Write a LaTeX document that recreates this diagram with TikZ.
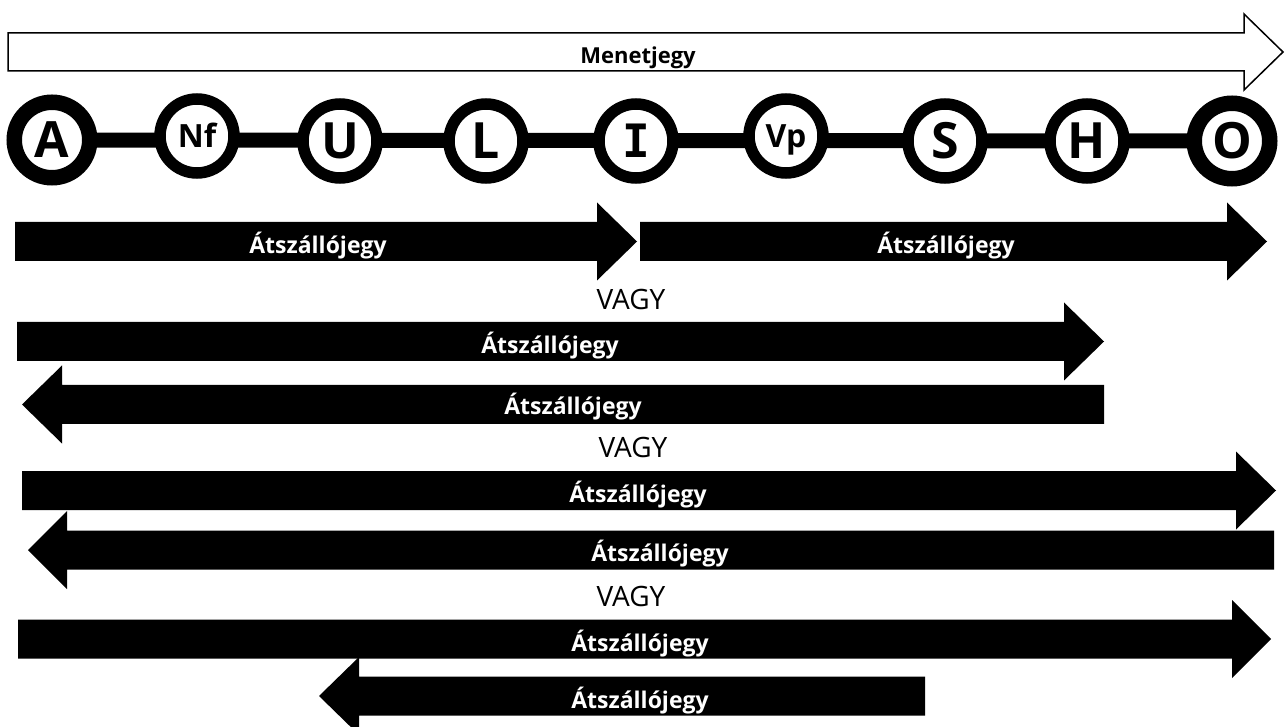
\documentclass[tikz,border=0pt]{standalone}
\usepackage{fontspec}
\setmainfont{Open Sans}
\newfontfamily\monob{DejaVu Sans Mono}
\usetikzlibrary{backgrounds}
\newcommand\blkR[4]{% x1, head base, tip, yc
  \fill[black] (#1,#4-19.5) -- (#2,#4-19.5) -- (#2,#4-39) -- (#3,#4) -- (#2,#4+39) -- (#2,#4+19.5) -- (#1,#4+19.5) -- cycle;}
\newcommand\blkL[4]{% x right end, head base, tip, yc
  \fill[black] (#1,#4-19.5) -- (#2,#4-19.5) -- (#2,#4-39) -- (#3,#4) -- (#2,#4+39) -- (#2,#4+19.5) -- (#1,#4+19.5) -- cycle;}
\tikzset{
  stnbig/.style={circle, draw=black, fill=white, line width=11.5pt, minimum size=74pt, inner sep=0pt,
    text height=35.7pt, text depth=0pt, font=\bfseries\fontsize{50}{50}\selectfont},
  stnsmall/.style={circle, draw=black, fill=white, line width=11.5pt, minimum size=74pt, inner sep=0pt,
    text height=22.8pt, text depth=0pt, font=\bfseries\fontsize{32}{32}\selectfont},
  stnend/.style={stnbig, line width=15.5pt, minimum size=75.5pt},
  lbl/.style={anchor=base, text=white, inner sep=0pt, font=\bfseries\fontsize{23}{27}\selectfont},
  orlbl/.style={anchor=base, text=black, inner sep=0pt, font=\fontsize{28}{32}\selectfont},
  toplbl/.style={anchor=base, text=black, inner sep=0pt, font=\bfseries\fontsize{22}{26}\selectfont},
  trackline/.style={line width=15pt, draw=black}
}
\begin{document}
\begin{tikzpicture}[x=1pt, y=-1pt]
\clip (0,0) rectangle (1286,727);
% top outline arrow
\draw[line width=1.5pt, line join=miter, fill=white] (8,33) -- (1244,33) -- (1244,14) -- (1283,52) -- (1244,90) -- (1244,71) -- (8,71) -- cycle;
\node[toplbl] (menet) at (638,64) {Menetjegy};
% stations
\node[stnend]   (A)  at (52,140)   {A};
\node[stnsmall] (Nf) at (197,136)  {Nf};
\node[stnbig]   (U)  at (340,141)  {U};
\node[stnbig]   (L)  at (486,141)  {L};
\node[stnbig, font=\monob\bfseries\fontsize{46}{46}\selectfont, text height=33pt] (I) at (636,141) {I};
\node[stnsmall] (Vp) at (786,136)  {Vp};
\node[stnbig]   (S)  at (945,141)  {S};
\node[stnbig]   (H)  at (1087,141) {H};
\node[stnend]   (O)  at (1232,141) {O};
\begin{scope}[on background layer]
\fill[white] (0,0) rectangle (1286,727);
\draw[trackline] (A.center) -- (O.center);
\end{scope}
% row 1
\blkR{15}{597}{637}{241.5}
\blkR{640}{1227}{1267}{241.5}
\node[lbl] (t1a) at (318,253.5) {Átszállójegy};
\node[lbl] (t1b) at (946,253.5) {Átszállójegy};
\node[orlbl] (or1) at (631,310) {VAGY};
% row 2
\blkR{17}{1064}{1104}{341.5}
\blkL{1104}{62}{22}{404.5}
\node[lbl] (t2a) at (550,354) {Átszállójegy};
\node[lbl] (t2b) at (573,415) {Átszállójegy};
\node[orlbl] (or2) at (633,457) {VAGY};
% row 3
\blkR{22}{1236}{1276}{490.5}
\blkL{1274}{67}{28}{550}
\node[lbl] (t3a) at (638,502) {Átszállójegy};
\node[lbl] (t3b) at (660,561) {Átszállójegy};
\node[orlbl] (or3) at (631,606) {VAGY};
% row 4
\blkR{18}{1232}{1271}{639}
\blkL{925}{359}{319}{696}
\node[lbl] (t4a) at (640,651) {Átszállójegy};
\node[lbl] (t4b) at (640,708) {Átszállójegy};
\end{tikzpicture}
\end{document}
